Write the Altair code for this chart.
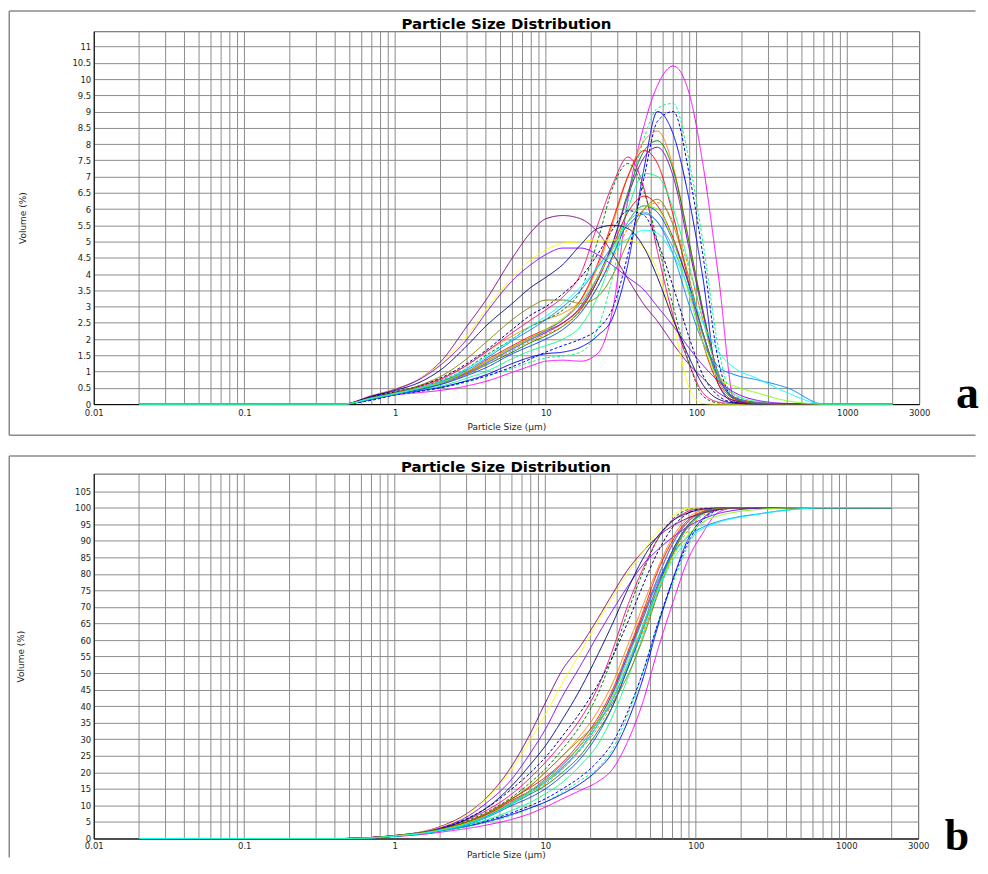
import altair as alt
import pandas as pd

# particle size knots (µm) shared by every curve
SIZES = [0.02, 0.45, 0.7, 1, 1.5, 2, 3, 4, 6, 8, 10, 13, 17, 22, 28, 35, 45, 55,
         70, 90, 110, 140, 180, 250, 400, 700, 2000]

# frequency (Volume %) per curve
f01 = [0,0,0.15,0.28,0.36,0.42,0.56,0.7,0.98,1.18,1.32,1.35,1.32,1.55,3.0,6.3,8.6,9.8,10.4,9.5,7.4,3.9,0.05,0.02,0,0,0]
f02 = [0,0,0.15,0.3,0.42,0.5,0.68,0.85,1.1,1.3,1.42,1.48,1.6,2.3,4.0,6.2,8.2,9.1,9.25,7.4,5.0,1.7,0.1,0.02,0,0,0]
f03 = [0,0,0.15,0.3,0.42,0.52,0.72,0.9,1.25,1.45,1.55,1.6,1.75,2.1,2.7,4.3,7.3,9.0,8.3,6.2,3.9,0.6,0.05,0.01,0,0,0]
f04 = [0,0,0.12,0.28,0.4,0.5,0.7,0.86,1.15,1.4,1.6,1.8,2.0,2.3,3.0,4.6,7.0,8.7,9.0,7.0,4.6,1.3,0.15,0.02,0,0,0]
f05 = [0,0,0.22,0.38,0.58,0.78,1.2,1.6,2.1,2.4,2.6,2.8,3.2,4.2,5.6,7.0,8.1,8.4,7.3,4.9,2.9,0.9,0.2,0.05,0,0,0]
f06 = [0,0,0.18,0.32,0.48,0.62,0.92,1.2,1.6,1.9,2.1,2.4,2.9,3.8,5.0,6.5,7.8,8.1,7.2,4.9,2.9,0.9,0.15,0.04,0,0,0]
f07 = [0,0,0.18,0.33,0.5,0.65,0.95,1.25,1.7,2.0,2.2,2.5,3.0,3.9,5.0,6.4,7.6,7.9,7.0,4.7,2.8,0.9,0.2,0.05,0,0,0]
f08 = [0,0,0.2,0.35,0.52,0.7,1.0,1.35,1.8,2.1,2.3,2.6,3.2,4.3,5.7,7.0,7.8,7.4,5.8,3.6,1.9,0.6,0.1,0.03,0,0,0]
f09 = [0,0,0.2,0.36,0.56,0.76,1.2,1.6,2.2,2.6,2.9,3.3,4.0,5.5,6.8,7.6,6.6,4.7,2.7,1.2,0.35,0.06,0.01,0,0,0,0]
f10 = [0,0,0.2,0.35,0.52,0.72,1.1,1.5,2.0,2.4,2.6,2.9,3.5,5.0,6.7,7.4,6.5,5.0,3.0,1.2,0.25,0.03,0,0,0,0,0]
f11 = [0,0,0.16,0.3,0.45,0.55,0.8,1.0,1.4,1.65,1.8,2.0,2.4,3.3,4.6,6.0,7.1,7.0,6.0,4.2,2.6,0.9,0.3,0.08,0,0,0]
f12 = [0,0,0.2,0.34,0.5,0.66,0.98,1.3,1.75,2.05,2.25,2.5,2.95,3.8,4.9,5.9,6.4,6.1,5.1,3.6,2.2,0.8,0.18,0.04,0,0,0]
f13 = [0,0,0.19,0.33,0.48,0.62,0.92,1.2,1.65,1.95,2.15,2.4,2.85,3.6,4.5,5.4,6.0,6.2,5.6,4.1,2.6,0.95,0.25,0.05,0,0,0]
f14 = [0,0,0.22,0.38,0.58,0.8,1.25,1.65,2.3,2.75,3.0,3.4,3.9,4.6,5.4,5.95,5.8,5.0,3.6,2.0,0.9,0.25,0.04,0,0,0,0]
f15 = [0,0,0.17,0.31,0.46,0.6,0.88,1.12,1.55,1.8,2.0,2.3,2.8,3.6,4.6,5.6,6.1,5.9,5.0,3.6,2.2,0.8,0.2,0.04,0,0,0]
f16 = [0,0,0.19,0.33,0.5,0.64,0.95,1.25,1.7,2.0,2.25,2.6,3.1,3.9,4.8,5.6,5.9,5.6,4.8,3.4,2.1,0.8,0.2,0.04,0,0,0]
f17 = [0,0,0.26,0.46,0.82,1.3,2.4,3.2,4.5,5.3,5.7,5.8,5.7,5.3,4.6,3.85,3.05,2.55,1.85,1.2,0.8,0.35,0.1,0.02,0,0,0]
f18 = [0,0,0.26,0.46,0.82,1.25,2.1,2.9,3.9,4.45,4.75,4.95,5.0,5.05,5.05,5.05,4.8,4.1,2.5,0.45,0.02,0,0,0,0,0,0]
f19 = [0,0,0.25,0.45,0.8,1.2,2.0,2.8,3.8,4.3,4.6,4.8,4.8,4.6,4.25,3.9,3.5,3.0,2.4,1.7,1.2,0.7,0.35,0.12,0.02,0,0]
f20 = [0,0,0.24,0.42,0.7,1.05,1.8,2.4,3.1,3.6,3.9,4.3,4.9,5.4,5.5,5.4,4.8,3.9,2.6,1.4,0.6,0.15,0.03,0,0,0,0]
f21 = [0,0,0.18,0.33,0.5,0.68,1.05,1.4,1.95,2.3,2.6,3.0,3.5,4.2,4.9,5.5,5.85,5.6,4.6,3.0,1.9,1.15,0.9,0.75,0.5,0,0]
f22 = [0,0,0.2,0.35,0.6,0.85,1.4,1.9,2.6,3.0,3.2,3.2,3.1,3.3,4.0,5.0,6.0,6.3,5.5,3.8,2.2,0.7,0.15,0.03,0,0,0]
f23 = [0,0,0.18,0.32,0.5,0.66,1.0,1.3,1.75,2.05,2.3,2.65,3.15,3.9,4.8,5.6,6.1,6.0,5.0,3.3,1.9,0.8,0.55,0.35,0.1,0,0]
f24 = [0,0,0.18,0.33,0.52,0.7,1.1,1.45,2.0,2.4,2.7,3.1,3.6,4.2,4.7,5.1,5.35,5.25,4.6,3.5,2.5,1.6,1.1,0.8,0.35,0,0]

# cumulative (Volume %) per curve
k01 = [0,0,0.2,0.6,1.2,1.9,3.0,4.0,5.8,7.6,9.5,12,14.5,17,21,29,42,56,71,85,92,98.5,99.9,100,100,100,100]
k02 = [0,0,0.2,0.7,1.4,2.2,3.5,4.8,7.0,9.2,11,14,17.5,21,27,37,51,64,77,89,95,99.2,100,100,100,100,100]
k03 = [0,0,0.2,0.7,1.5,2.3,3.7,5.0,7.3,9.3,11,13.5,16.5,20.5,26,35,49,63,78,91,96.5,99.5,100,100,100,100,100]
k04 = [0,0,0.2,0.7,1.5,2.4,3.9,5.3,7.8,10,12,15,18.5,23,29,38,51,64,78,90,96,99.3,100,100,100,100,100]
k05 = [0,0,0.3,0.9,1.8,2.8,5.0,7.4,12,16,20,25,31,38,47,58,71,81,91,97.2,99.2,99.9,100,100,100,100,100]
k06 = [0,0,0.2,0.8,1.6,2.5,4.5,6.6,10.5,13.5,16,20,25,32,40,51,64,75,86,94.5,98,99.7,100,100,100,100,100]
k07 = [0,0,0.2,0.8,1.6,2.6,4.7,7,11,14.5,17,21.5,27,34,42,52,65,76,87,95,98.3,99.7,100,100,100,100,100]
k08 = [0,0,0.3,0.8,1.7,2.7,5,7.4,12,15.5,18.5,23,29,36,45,56,69,80,90,96.5,98.8,99.8,100,100,100,100,100]
k09 = [0,0,0.3,0.9,1.9,3.0,5.6,8.3,13.5,18.5,23,29,36,45,57,70,82,90,96,99,99.8,100,100,100,100,100,100]
k10 = [0,0,0.3,0.9,1.8,2.9,5.3,7.8,12.5,17,21,27,34,43,55,68,81,90,96.5,99.5,100,100,100,100,100,100,100]
k11 = [0,0,0.2,0.7,1.5,2.3,3.9,5.5,8.5,11,13.5,17,22,28,37,48,62,74,86,94.5,98,99.6,100,100,100,100,100]
k12 = [0,0,0.3,0.8,1.7,2.7,4.8,7,11.5,14.5,17.5,22,28,35,44,55,68,78,89,96,98.5,99.7,100,100,100,100,100]
k13 = [0,0,0.3,0.8,1.7,2.6,4.6,6.8,11,14,16.5,21,26.5,33,41,51,63,73,85,93.5,97.5,99.5,100,100,100,100,100]
k14 = [0,0,0.3,0.9,1.9,3.1,6.0,9,15,20,24.5,31,38,46,55,65,77,86,94,98.5,99.7,100,100,100,100,100,100]
k15 = [0,0,0.2,0.7,1.5,2.4,4.2,6.2,10,12.5,15,19,24,31,40,51,64,75,87,95,98.3,99.7,100,100,100,100,100]
k16 = [0,0,0.3,0.8,1.6,2.5,4.5,6.6,10.8,14,17,21,27,34,43,54,67,78,89,96,98.5,99.7,100,100,100,100,100]
k17 = [0,0,0.3,0.9,2.0,3.6,7.5,12,22,32,41,51,58,66,74,81,87,91,94.5,97,98.3,99.4,99.9,100,100,100,100]
k18 = [0,0,0.3,0.9,2.0,3.4,7.2,11.8,21,30,37.5,47,56,65,73,80,87,92.5,97.5,99.9,100,100,100,100,100,100,100]
k19 = [0,0,0.3,0.9,1.9,3.2,6.5,10.5,18,26,33,43,52,61,69,76,83,87,91,94.5,96.5,98.2,99.2,99.8,100,100,100]
k20 = [0,0,0.3,0.8,1.7,2.9,5.8,9,16,22.5,28,36,45,55,65,75,85,91,96,98.5,99.5,99.9,100,100,100,100,100]
k21 = [0,0,0.2,0.7,1.5,2.4,4.4,6.5,11,14.5,18,22.5,28,35,44,55,67,77,86,91.5,94,95.8,97,98,99.3,100,100]
k22 = [0,0,0.3,0.9,1.8,2.8,5.0,7.4,12,16,20,25,30,35,41,49,61,73,86,95,98.4,99.8,100,100,100,100,100]
k23 = [0,0,0.2,0.8,1.6,2.6,4.6,6.8,11,14.5,17.5,22,28,35,43,53,65,75,85,92,95.5,97.5,98.6,99.4,99.9,100,100]
k24 = [0,0,0.2,0.7,1.5,2.4,4.3,6.3,10.5,14,17,21.5,27,34,42,52,64,74,84,90.5,93.5,95.5,96.8,97.9,99.2,100,100]

CURVE_IDS = ["c%02d" % i for i in range(1, 25)]
CURVE_COLORS = ["#ff00ff", "#00ff80", "#0000ff", "#0000ff", "#ff8000", "#008000",
                "#8000c0", "#ff0000", "#ff0080", "#008000", "#00ff80", "#e00000",
                "#ff8000", "#000080", "#0040ff", "#40a0ff", "#800080", "#ffff00",
                "#8000ff", "#000080", "#0080ff", "#808000", "#80ff00", "#00ffff"]
CURVE_DASH = ["solid", "dash", "solid", "dash", "solid", "solid",
              "solid", "solid", "solid", "dash", "solid", "solid",
              "dash", "dash", "solid", "solid", "solid", "solid",
              "solid", "solid", "solid", "solid", "solid", "solid"]
FREQS = [f01, f02, f03, f04, f05, f06, f07, f08, f09, f10, f11, f12,
         f13, f14, f15, f16, f17, f18, f19, f20, f21, f22, f23, f24]
CUMS = [k01, k02, k03, k04, k05, k06, k07, k08, k09, k10, k11, k12,
        k13, k14, k15, k16, k17, k18, k19, k20, k21, k22, k23, k24]

GRID_X = [0.02, 0.03, 0.04, 0.05, 0.06, 0.07, 0.08, 0.09, 0.1,
          0.2, 0.3, 0.4, 0.5, 0.6, 0.7, 0.8, 0.9, 1,
          2, 3, 4, 5, 6, 7, 8, 9, 10,
          20, 30, 40, 50, 60, 70, 80, 90, 100,
          200, 300, 400, 500, 600, 700, 800, 900, 1000, 2000]
X_TICKS = [0.01, 0.1, 1, 10, 100, 1000, 3000]
Y_TICKS_FREQ = [0, 0.5, 1, 1.5, 2, 2.5, 3, 3.5, 4, 4.5, 5, 5.5, 6, 6.5, 7, 7.5,
                8, 8.5, 9, 9.5, 10, 10.5, 11]
Y_TICKS_CUM = [0, 5, 10, 15, 20, 25, 30, 35, 40, 45, 50, 55, 60, 65, 70, 75,
               80, 85, 90, 95, 100, 105]
PANEL_TITLE = "Particle Size Distribution"

rows = []
for cid, dash, fr, cu in zip(CURVE_IDS, CURVE_DASH, FREQS, CUMS):
    assert len(fr) == len(SIZES) and len(cu) == len(SIZES), cid
    for s, fv, cv in zip(SIZES, fr, cu):
        rows.append({"curve": cid, "dash": dash, "size": s, "freq": fv, "cum": cv})
df = pd.DataFrame(rows)
grid_df = pd.DataFrame({"g": GRID_X})
one = pd.DataFrame({"k": [0]})

FONT = "DejaVu Sans"
FRAME_COLOR = "#8a8a8a"


def panel(ycol, ymax, yticks, w, h, ytitle_x, xtitle_y, label_pad, frame_left,
          frame_top, frame_bottom, frame_right, letter, letter_size, letter_xy,
          title_y, draw_bottom_frame=True):
    xscale = alt.Scale(type="log", domain=[0.01, 3000], nice=False)
    xaxis = alt.Axis(values=X_TICKS, labelExpr="format(datum.value, '~g')",
                     grid=False, title="Particle Size (μm)", titleY=xtitle_y,
                     titleBaseline="middle", labelPadding=label_pad, labelFlush=False,
                     labelOverlap=False, ticks=False, tickSize=0)
    yaxis = alt.Axis(values=yticks, labelExpr="format(datum.value, '~g')",
                     grid=True, title="Volume (%)", titleX=ytitle_x,
                     titleBaseline="middle", labelPadding=3, labelOverlap=False,
                     labelFlush=False, ticks=False, tickSize=0)
    yscale = alt.Scale(domain=[0, ymax], nice=False, zero=True)

    vgrid = alt.Chart(grid_df).mark_rule(color="#8c8c8c", strokeWidth=1).encode(
        x=alt.X("g:Q", scale=xscale, axis=xaxis)
    )
    lines = alt.Chart(df).mark_line(strokeWidth=1, interpolate="monotone").encode(
        x=alt.X("size:Q", scale=xscale, axis=xaxis),
        y=alt.Y(f"{ycol}:Q", scale=yscale, axis=yaxis),
        color=alt.Color("curve:N", scale=alt.Scale(domain=CURVE_IDS, range=CURVE_COLORS),
                        legend=None),
        strokeDash=alt.StrokeDash("dash:N",
                                  scale=alt.Scale(domain=["solid", "dash"],
                                                  range=[[1, 0], [3, 2]]),
                                  legend=None),
    )
    fr_top = alt.Chart(one).mark_rule(color=FRAME_COLOR, strokeWidth=1.5).encode(
        x=alt.value(frame_left), x2=alt.value(frame_right), y=alt.value(frame_top))
    fr_left = alt.Chart(one).mark_rule(color=FRAME_COLOR, strokeWidth=1.5).encode(
        x=alt.value(frame_left), y=alt.value(frame_top), y2=alt.value(frame_bottom))
    layers = [vgrid, fr_top, fr_left]
    if draw_bottom_frame:
        fr_bot = alt.Chart(one).mark_rule(color=FRAME_COLOR, strokeWidth=1.5).encode(
            x=alt.value(frame_left), x2=alt.value(frame_right), y=alt.value(frame_bottom))
        layers.append(fr_bot)
    title = alt.Chart(one).mark_text(
        text=PANEL_TITLE, font=FONT, fontSize=15, fontWeight="bold",
        align="center", baseline="alphabetic", color="black"
    ).encode(x=alt.value(w / 2), y=alt.value(title_y))
    lab = alt.Chart(one).mark_text(
        text=letter, font="Liberation Serif", fontSize=letter_size, fontWeight="bold",
        align="center", baseline="alphabetic", color="black"
    ).encode(x=alt.value(letter_xy[0]), y=alt.value(letter_xy[1]))
    layers += [lines, title, lab]
    return alt.layer(*layers).properties(width=w, height=h)


# both plot areas start at the same x (concat aligns them); frames at page x ~8.75
top = panel("freq", 11.47, Y_TICKS_FREQ, 828, 374, -71.5, 22.8, 4,
            -84.75, -20.25, 405.3, 884.5, "a", 46, (876.5, 377.7), -2.3)
bottom = panel("cum", 110.3, Y_TICKS_CUM, 827, 366, -73.5, 16.5, 3,
               -84.75, -17.7, 385, 884.5, "b", 44, (865.8, 378), -1.2,
               draw_bottom_frame=False)

chart = alt.concat(top, bottom, columns=1, spacing=17.75).resolve_scale(
    x="independent", y="independent"
).properties(
    padding={"left": 0, "top": 0, "right": 0, "bottom": 0},
    background="white",
).configure_view(
    stroke="#5a5a5a", strokeWidth=1
).configure_axis(
    labelFont=FONT, labelFontSize=8.5, labelColor="#1e1e1e",
    titleFont=FONT, titleFontSize=9, titleFontWeight="normal", titleColor="#1e1e1e",
    domainColor="#000000", domainWidth=1,
    gridColor="#8c8c8c", gridWidth=1,
)

chart.save("out.html", embed_options={"renderer": "svg", "actions": False})
